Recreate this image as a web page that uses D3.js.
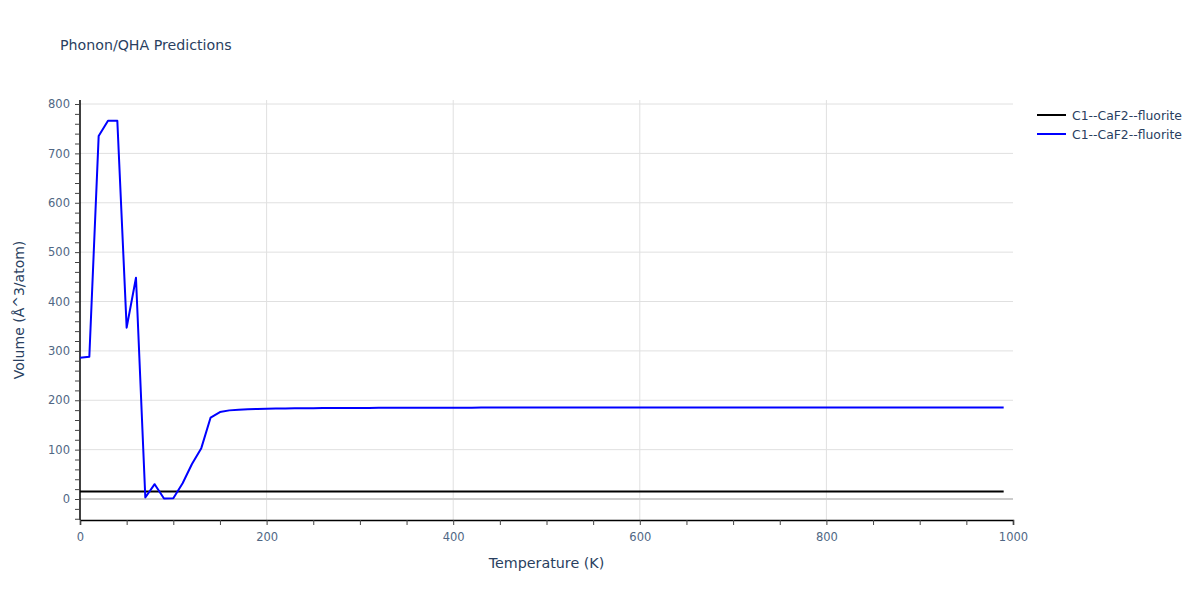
<!DOCTYPE html>
<html><head><meta charset="utf-8">
<script src="https://cdn.jsdelivr.net/npm/d3@7"></script>
<style>body{margin:0;background:#fff;} text{font-family:"DejaVu Sans",Verdana,sans-serif;}</style>
</head><body>
<svg id="c" width="1200" height="600"></svg>
<script>
const temps = d3.range(0, 1000, 10);
const seriesNames = ["C1--CaF2--fluorite", "C1--CaF2--fluorite"];
const seriesColors = ["#000000", "#0000ff"];
const blackValues = [
15.3,15.3,15.3,15.3,15.3,15.3,15.3,15.3,15.3,15.3,
15.3,15.3,15.3,15.3,15.3,15.3,15.3,15.3,15.3,15.3,
15.3,15.3,15.3,15.3,15.3,15.3,15.3,15.3,15.3,15.3,
15.3,15.3,15.3,15.3,15.3,15.3,15.3,15.3,15.3,15.3,
15.3,15.3,15.3,15.3,15.3,15.3,15.3,15.3,15.3,15.3,
15.3,15.3,15.3,15.3,15.3,15.3,15.3,15.3,15.3,15.3,
15.3,15.3,15.3,15.3,15.3,15.3,15.3,15.3,15.3,15.3,
15.3,15.3,15.3,15.3,15.3,15.3,15.3,15.3,15.3,15.3,
15.3,15.3,15.3,15.3,15.3,15.3,15.3,15.3,15.3,15.3,
15.3,15.3,15.3,15.3,15.3,15.3,15.3,15.3,15.3,15.3];
const blueValues = [
286,288,735,766,766,347,448,3,30,1,
1.5,32,71,103,165,176,179.5,181,182,182.5,
182.8,183.1,183.4,183.6,183.8,184,184.1,184.2,184.3,184.4,
184.5,184.5,184.6,184.6,184.7,184.7,184.8,184.8,184.9,184.9,
185,185,185,185.1,185.1,185.1,185.2,185.2,185.2,185.3,
185.3,185.3,185.3,185.3,185.3,185.3,185.3,185.3,185.3,185.3,
185.3,185.3,185.3,185.3,185.3,185.3,185.3,185.3,185.3,185.3,
185.3,185.3,185.3,185.3,185.3,185.3,185.3,185.3,185.3,185.3,
185.3,185.3,185.3,185.3,185.3,185.3,185.3,185.3,185.3,185.3,
185.3,185.3,185.3,185.3,185.3,185.3,185.3,185.3,185.3,185.3];
const xTickLabels = [0,200,400,600,800,1000];
const yTickLabels = [0,100,200,300,400,500,600,700,800];

const svg = d3.select("#c");
const L=80, R=1013, T=100, B=520;
const x = d3.scaleLinear().domain([0,1000]).range([L,R]);
const y = d3.scaleLinear().domain([0,800]).range([499,104]);
const txt = "#2a3f5f";
const tickTxt = "#506784";

// grid
svg.append("g").selectAll("line").data(xTickLabels.filter(d=>d>0&&d<1000)).join("line")
  .attr("x1",d=>x(d)).attr("x2",d=>x(d)).attr("y1",T).attr("y2",B)
  .attr("stroke","#e0e0e0").attr("stroke-width",1);
svg.append("g").selectAll("line").data(yTickLabels).join("line")
  .attr("x1",L).attr("x2",R).attr("y1",d=>y(d)).attr("y2",d=>y(d))
  .attr("stroke",d=>d===0?"#cccccc":"#e0e0e0").attr("stroke-width",d=>d===0?2:1);

// axes
const xMinor = d3.range(0,1001,50);
const gx = svg.append("g").attr("transform",`translate(0,${B})`);
gx.call(d3.axisBottom(x).tickValues(xMinor).tickSize(5).tickFormat(d=>xTickLabels.includes(d)?d:""));
gx.select(".domain").attr("stroke","#000").attr("stroke-width",1.5);
gx.selectAll(".tick line").attr("stroke","#444");
gx.selectAll("text").attr("fill",tickTxt).attr("font-size",11.5).attr("dy","1.15em");

const yMinor = d3.range(-40,801,20);
const gy = svg.append("g").attr("transform",`translate(${L},0)`);
gy.call(d3.axisLeft(y).tickValues(yMinor).tickSize(5).tickFormat(d=>yTickLabels.includes(d)?d:""));
gy.select(".domain").attr("d",`M-0,${B}V${T}`).attr("stroke","#000").attr("stroke-width",1.5);
gy.selectAll(".tick line").attr("stroke","#444");
gy.selectAll("text").attr("fill",tickTxt).attr("font-size",11.5).attr("x",-10);

// lines
const line = d3.line().x((d,i)=>x(temps[i])).y(d=>y(d));
svg.append("path").datum(blackValues).attr("d",line).attr("fill","none")
  .attr("stroke",seriesColors[0]).attr("stroke-width",2);
svg.append("path").datum(blueValues).attr("d",line).attr("fill","none")
  .attr("stroke",seriesColors[1]).attr("stroke-width",2).attr("stroke-linejoin","round");

// titles
svg.append("text").attr("x",60).attr("y",50).attr("fill",txt).attr("font-size",14.2).text("Phonon/QHA Predictions");
svg.append("text").attr("x",(L+R)/2).attr("y",568).attr("text-anchor","middle").attr("fill",txt).attr("font-size",14.3).text("Temperature (K)");
svg.append("text").attr("transform","translate(24,310) rotate(-90)").attr("text-anchor","middle").attr("fill",txt).attr("font-size",14).text("Volume (Å^3/atom)");

// legend
const lg = svg.append("g");
seriesNames.forEach((n,i)=>{
  const yy = 115 + i*19;
  lg.append("line").attr("x1",1037).attr("x2",1066).attr("y1",yy).attr("y2",yy).attr("stroke",seriesColors[i]).attr("stroke-width",2);
  lg.append("text").attr("x",1072).attr("y",yy+4.5).attr("fill",txt).attr("font-size",12.4).text(n);
});
</script>
</body></html>
